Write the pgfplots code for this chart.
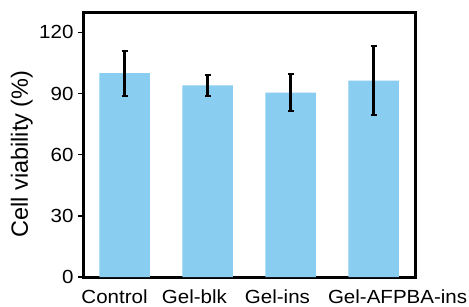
\documentclass[border=0pt]{standalone}
\usepackage{pgfplots}
\pgfplotsset{compat=1.18}
\usepackage{fontspec}
\setmainfont{Liberation Sans}[FakeStretch=1.08]
\newfontfamily\labelfont{Liberation Sans}
\definecolor{barblue}{RGB}{137,205,240}
\begin{document}
\begin{tikzpicture}
\begin{axis}[
  scale only axis,
  width=332pt, height=265pt,
  xmin=-0.5, xmax=3.5,
  ymin=0, ymax=130,
  axis line style={line width=3pt},
  ytick={0,30,60,90,120},
  xtick={-0.12,0.843,1.843,3.29},
  xticklabels={Control,Gel-blk,Gel-ins,Gel-AFPBA-ins},
  x tick style={draw=none},
  y tick style={line width=1.5pt, black},
  tick align=outside,
  ytick pos=left,
  major tick length=5pt,
  /pgf/number format/assume math mode=true,
  tick label style={font=\fontsize{19}{22}\selectfont},
  yticklabel style={xshift=-1pt},
  xticklabel style={anchor=north, yshift=-4pt},
  ylabel={Cell viability (\%)},
  every axis y label/.style={at={(axis description cs:-0.184,0.464)}, rotate=90, anchor=center, font=\labelfont\fontsize{23.5}{26}\selectfont},
  clip=false,
]
\addplot[
  ybar, bar width=50.5pt, fill=barblue, draw=none,
  error bars/.cd, y dir=both, y explicit,
  error bar style={line width=2.6pt, black},
  error mark options={rotate=90, line width=2pt, mark size=3pt, black},
] table[x=x, y=y, y error=e] {
x y e
0 100 11
1 94 5.3
2 90.5 9.1
3 96.3 16.8
};
\end{axis}
\pgfresetboundingbox
\path ([xshift=-83pt,yshift=12pt]current axis.north west) rectangle ([xshift=54pt,yshift=-29pt]current axis.south east);
\end{tikzpicture}
\end{document}
